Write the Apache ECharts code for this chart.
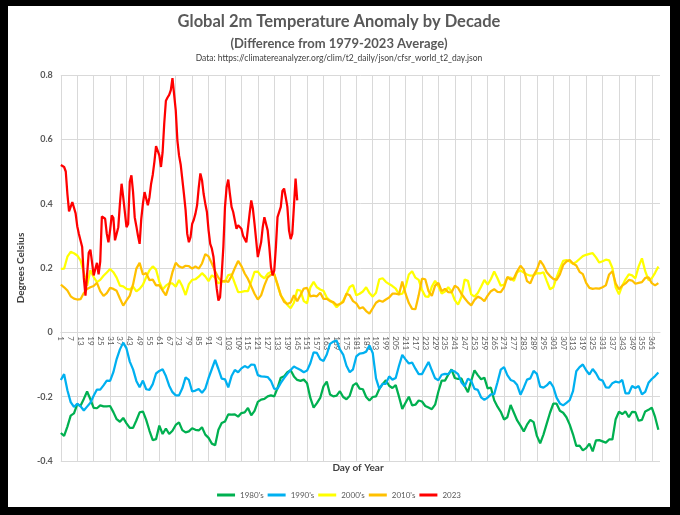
<!DOCTYPE html>
<html lang="en">
<head>
<meta charset="UTF-8">
<title>Global 2m Temperature Anomaly by Decade</title>
<script src="https://cdn.jsdelivr.net/npm/echarts@6/dist/echarts.min.js"></script>
<style>
  html, body { margin: 0; padding: 0; background: #000; }
  #chart { position: absolute; left: 8px; top: 6px; width: 662px; height: 501px; background: #fff; }
</style>
</head>
<body>
<div id="chart"></div>
<script>
// day-of-year categories (1..366), decade curves read every 2nd day (1,3,...,365)
var days = [];
for (var d = 1; d <= 366; d++) days.push(String(d));
var sampleDays = [];
for (var s = 1; s <= 365; s += 2) sampleDays.push(String(s));

var seriesNames = ["1980's", "1990's", "2000's", "2010's", '2023'];
var seriesColors = ['#00b050', '#00b0f0', '#ffff00', '#ffc000', '#ff0000'];

var v1980s = [
  -0.313, -0.322, -0.293, -0.259, -0.252, -0.224, -0.228, -0.207, -0.184, -0.208,
  -0.235, -0.236, -0.227, -0.23, -0.23, -0.229, -0.248, -0.27, -0.278, -0.266,
  -0.283, -0.297, -0.297, -0.274, -0.249, -0.246, -0.272, -0.306, -0.335, -0.332,
  -0.29, -0.316, -0.299, -0.316, -0.306, -0.288, -0.28, -0.304, -0.311, -0.308,
  -0.298, -0.303, -0.305, -0.295, -0.318, -0.328, -0.346, -0.351, -0.303, -0.282,
  -0.277, -0.255, -0.256, -0.255, -0.262, -0.251, -0.249, -0.235, -0.258, -0.244,
  -0.216, -0.209, -0.207, -0.199, -0.196, -0.199, -0.173, -0.141, -0.137, -0.124,
  -0.118, -0.137, -0.148, -0.151, -0.147, -0.158, -0.204, -0.234, -0.22, -0.204,
  -0.168, -0.153, -0.193, -0.199, -0.197, -0.183, -0.201, -0.208, -0.197,
  -0.165, -0.158, -0.175, -0.177, -0.201, -0.212, -0.201, -0.199, -0.176, -0.161,
  -0.149, -0.166, -0.173, -0.164, -0.2, -0.238, -0.219, -0.2, -0.227, -0.225,
  -0.212, -0.215, -0.229, -0.234, -0.239, -0.225, -0.184, -0.15, -0.15, -0.132,
  -0.115, -0.142, -0.145, -0.143, -0.167, -0.186, -0.151, -0.118, -0.133, -0.146,
  -0.141, -0.174, -0.172, -0.211, -0.231, -0.247, -0.271, -0.264, -0.226, -0.25,
  -0.274, -0.29, -0.308, -0.287, -0.272, -0.279, -0.322, -0.345, -0.318, -0.284,
  -0.25, -0.222, -0.222, -0.244, -0.25, -0.264, -0.287, -0.317, -0.353, -0.352,
  -0.367, -0.36, -0.346, -0.37, -0.336, -0.335, -0.339, -0.343, -0.333, -0.333,
  -0.27, -0.247, -0.254, -0.246, -0.264, -0.247, -0.248, -0.275, -0.272, -0.246,
  -0.241, -0.234, -0.263, -0.303
];

var v1990s = [
  -0.148, -0.13, -0.18, -0.217, -0.232, -0.222, -0.23, -0.243, -0.231, -0.219,
  -0.197, -0.178, -0.178, -0.165, -0.15, -0.151, -0.124, -0.083, -0.053, -0.032,
  -0.05, -0.091, -0.115, -0.151, -0.171, -0.15, -0.177, -0.179, -0.161, -0.128,
  -0.12, -0.115, -0.136, -0.166, -0.186, -0.196, -0.196, -0.174, -0.14, -0.148,
  -0.184, -0.181, -0.176, -0.188, -0.175, -0.142, -0.114, -0.086, -0.114, -0.144,
  -0.146, -0.171, -0.136, -0.117, -0.124, -0.112, -0.105, -0.11, -0.1, -0.101,
  -0.133, -0.137, -0.138, -0.139, -0.151, -0.176, -0.175, -0.157, -0.142, -0.129,
  -0.117, -0.106, -0.112, -0.117, -0.124, -0.119, -0.096, -0.062, -0.064, -0.084,
  -0.089, -0.069, -0.036, -0.029, -0.026, -0.053, -0.069, -0.104, -0.124,
  -0.115, -0.075, -0.066, -0.065, -0.06, -0.041, -0.064, -0.143, -0.176, -0.16,
  -0.16, -0.137, -0.147, -0.142, -0.104, -0.07, -0.084, -0.097, -0.094, -0.113,
  -0.13, -0.13, -0.111, -0.092, -0.118, -0.143, -0.149, -0.132, -0.129, -0.13,
  -0.118, -0.122, -0.13, -0.155, -0.168, -0.144, -0.151, -0.176, -0.179, -0.202,
  -0.21, -0.203, -0.193, -0.192, -0.155, -0.116, -0.108, -0.133, -0.148, -0.152,
  -0.164, -0.194, -0.172, -0.147, -0.143, -0.12, -0.129, -0.169, -0.172, -0.165,
  -0.154, -0.17, -0.203, -0.221, -0.227, -0.219, -0.211, -0.183, -0.121, -0.108,
  -0.1, -0.118, -0.131, -0.114, -0.127, -0.146, -0.15, -0.171, -0.172, -0.158,
  -0.153, -0.156, -0.148, -0.19, -0.19, -0.167, -0.173, -0.167, -0.193, -0.185,
  -0.157, -0.145, -0.136, -0.125
];

var v2000s = [
  0.197, 0.198, 0.235, 0.25, 0.246, 0.239, 0.224, 0.185, 0.145, 0.193,
  0.172, 0.156, 0.163, 0.176, 0.186, 0.197, 0.187, 0.17, 0.145, 0.143,
  0.135, 0.133, 0.142, 0.127, 0.135, 0.148, 0.172, 0.193, 0.205, 0.195,
  0.157, 0.133, 0.145, 0.152, 0.152, 0.142, 0.163, 0.143, 0.116, 0.15,
  0.163, 0.165, 0.173, 0.184, 0.174, 0.159, 0.177, 0.17, 0.152, 0.159,
  0.157, 0.178, 0.18, 0.152, 0.125, 0.126, 0.128, 0.128, 0.158, 0.188,
  0.189,
  0.175, 0.168, 0.182, 0.188, 0.182, 0.146, 0.115, 0.1, 0.085, 0.075,
  0.092, 0.132, 0.13, 0.097, 0.09, 0.14, 0.157, 0.14, 0.133, 0.129,
  0.108, 0.099, 0.091, 0.078, 0.088, 0.098, 0.119, 0.141, 0.147, 0.115,
  0.12, 0.127, 0.14, 0.122, 0.111, 0.123, 0.165, 0.168, 0.157, 0.15,
  0.144, 0.136, 0.118, 0.12, 0.141, 0.18, 0.19, 0.17, 0.163, 0.132,
  0.112, 0.11, 0.142, 0.16, 0.143, 0.121, 0.127, 0.14, 0.127, 0.1,
  0.086, 0.11, 0.164, 0.16, 0.118, 0.111, 0.122, 0.142, 0.163, 0.148,
  0.166, 0.189, 0.168, 0.145, 0.148, 0.17, 0.17, 0.16, 0.187, 0.192,
  0.186, 0.18, 0.176, 0.177, 0.184, 0.183, 0.187, 0.16, 0.134, 0.14,
  0.171, 0.198, 0.222, 0.225, 0.22, 0.213, 0.219, 0.228, 0.237, 0.241,
  0.244, 0.246, 0.233, 0.217, 0.221, 0.226, 0.224, 0.2, 0.14, 0.118,
  0.145, 0.165, 0.18, 0.177, 0.168, 0.205, 0.23, 0.19, 0.162, 0.168,
  0.185, 0.205
];

var v2010s = [
  0.148, 0.14, 0.13, 0.112, 0.105, 0.102, 0.103, 0.122, 0.135, 0.14,
  0.144, 0.154, 0.128, 0.113, 0.122, 0.138, 0.135, 0.129, 0.105, 0.083,
  0.099, 0.114, 0.149, 0.198, 0.216, 0.18, 0.184, 0.162, 0.164, 0.146,
  0.147, 0.13, 0.115, 0.146, 0.187, 0.216, 0.205, 0.201, 0.207, 0.206,
  0.198, 0.205, 0.198, 0.214, 0.243, 0.236, 0.214, 0.19, 0.17, 0.158,
  0.16, 0.157, 0.175, 0.2, 0.222, 0.206, 0.183, 0.166, 0.143, 0.12,
  0.102,
  0.115, 0.146, 0.171, 0.179, 0.18, 0.15, 0.115, 0.095, 0.088, 0.093,
  0.115, 0.097, 0.116, 0.136, 0.138, 0.112, 0.114, 0.112, 0.123, 0.104,
  0.104, 0.097, 0.094, 0.085, 0.088, 0.094, 0.12, 0.115, 0.097, 0.09,
  0.074, 0.078, 0.066, 0.058, 0.075, 0.092, 0.099, 0.095, 0.102, 0.108,
  0.12, 0.12, 0.118, 0.158, 0.12, 0.091, 0.073, 0.072, 0.115, 0.167,
  0.165, 0.128, 0.113, 0.145, 0.154, 0.128, 0.135, 0.125, 0.124, 0.145,
  0.138, 0.12, 0.106, 0.093, 0.084, 0.101, 0.111, 0.106, 0.097, 0.114,
  0.128, 0.134, 0.126, 0.125, 0.14, 0.172, 0.164, 0.168, 0.19, 0.207,
  0.195, 0.159, 0.152, 0.177, 0.195, 0.223, 0.208, 0.187, 0.175, 0.166,
  0.163, 0.18, 0.209, 0.22, 0.225, 0.214, 0.208, 0.188, 0.181, 0.154,
  0.138, 0.135, 0.137, 0.136, 0.14, 0.146, 0.18, 0.19, 0.152, 0.134,
  0.145, 0.152, 0.163, 0.161, 0.151, 0.154, 0.156, 0.169, 0.171, 0.153,
  0.146, 0.153
];

// 2023, one value per day from day 1
var v2023 = [
  0.52, 0.518, 0.514, 0.5, 0.43, 0.376, 0.377, 0.405, 0.4, 0.37,
  0.33, 0.306, 0.3, 0.265, 0.17, 0.114, 0.18, 0.247, 0.257, 0.218,
  0.177, 0.197, 0.216, 0.18, 0.22, 0.36, 0.357, 0.353, 0.306, 0.28,
  0.317, 0.364, 0.356, 0.286, 0.28, 0.327, 0.4, 0.462, 0.42, 0.374,
  0.327, 0.337, 0.468, 0.488, 0.436, 0.358, 0.33, 0.3, 0.275, 0.353,
  0.4, 0.436, 0.44, 0.395, 0.42, 0.462, 0.49, 0.53, 0.579, 0.575,
  0.55, 0.514, 0.56, 0.65, 0.72, 0.73, 0.738, 0.753, 0.79, 0.79,
  0.69, 0.597, 0.55, 0.522, 0.516, 0.43, 0.38, 0.306, 0.28, 0.296,
  0.337, 0.35, 0.369, 0.395, 0.45, 0.494, 0.473, 0.43, 0.4, 0.374,
  0.317, 0.275, 0.26, 0.234, 0.18, 0.135, 0.099, 0.109, 0.18, 0.265,
  0.39, 0.452, 0.475, 0.43, 0.39, 0.374, 0.348, 0.322, 0.333, 0.337,
  0.322, 0.3, 0.296, 0.28, 0.286, 0.369, 0.41, 0.384, 0.337, 0.286,
  0.234, 0.234, 0.28, 0.327, 0.358, 0.364, 0.317, 0.265, 0.203, 0.177,
  0.192, 0.265, 0.358, 0.358, 0.39, 0.44, 0.447, 0.42, 0.39, 0.317,
  0.29, 0.306, 0.306, 0.478, 0.41
];

function pairs(xs, ys) {
  return ys.map(function (v, i) { return [xs[i], v]; });
}

var seriesData = [
  pairs(sampleDays, v1980s),
  pairs(sampleDays, v1990s),
  pairs(sampleDays, v2000s),
  pairs(sampleDays, v2010s),
  pairs(days, v2023)
];

var FONT = 'Lato, "Liberation Sans", sans-serif';
var GRID_TOP = 69, GRID_BOTTOM = 46, Y_MIN = -0.4, Y_MAX = 0.8;
var gridHeight = 501 - GRID_TOP - GRID_BOTTOM;
// move the category axis up from the bottom edge to the zero line
var zeroOffset = -gridHeight * (0 - Y_MIN) / (Y_MAX - Y_MIN);

var chart = echarts.init(document.getElementById('chart'));

var option = {
  animation: false,
  color: seriesColors,
  textStyle: { fontFamily: FONT },
  graphic: [
    { type: 'text', x: 331, y: 16, style: { text: 'Global 2m Temperature Anomaly by Decade', align: 'center', verticalAlign: 'middle', font: 'bold 16.5px ' + FONT, fill: '#595959' } },
    { type: 'text', x: 331, y: 38, style: { text: '(Difference from 1979-2023 Average)', align: 'center', verticalAlign: 'middle', font: 'bold 13px ' + FONT, fill: '#595959' } },
    { type: 'text', x: 331, y: 52, style: { text: 'Data: https://climatereanalyzer.org/clim/t2_daily/json/cfsr_world_t2_day.json', align: 'center', verticalAlign: 'middle', font: '8.5px ' + FONT, fill: '#404040' } },
    { type: 'text', x: 350, y: 462, style: { text: 'Day of Year', align: 'center', verticalAlign: 'middle', font: 'bold 10px ' + FONT, fill: '#404040' } }
  ],
  legend: {
    data: seriesNames,
    left: 'center',
    top: 480,
    icon: 'rect',
    itemWidth: 18,
    itemHeight: 3,
    itemGap: 4,
    textStyle: { fontSize: 8, color: '#595959', fontFamily: FONT }
  },
  grid: { left: 49, right: 10, top: GRID_TOP, bottom: GRID_BOTTOM },
  xAxis: {
    type: 'category',
    data: days,
    boundaryGap: false,
    position: 'bottom',
    offset: zeroOffset,
    axisLine: { onZero: false, lineStyle: { color: '#d9d9d9' } },
    axisTick: { show: false },
    axisLabel: { interval: 5, rotate: -90, fontSize: 8, color: '#595959', margin: 4 },
    splitLine: { show: true, interval: 9, lineStyle: { color: '#d9d9d9' } }
  },
  yAxis: {
    type: 'value',
    min: Y_MIN,
    max: Y_MAX,
    interval: 0.2,
    name: 'Degrees Celsius',
    nameLocation: 'middle',
    nameGap: 27,
    nameTextStyle: { fontSize: 10, fontWeight: 'bold', color: '#404040' },
    axisLine: { show: false },
    axisTick: { show: false },
    axisLabel: {
      fontSize: 9, fontWeight: 'bold', color: '#595959', margin: 8,
      formatter: function (v) { return String(+v.toFixed(1)); }
    },
    splitLine: { lineStyle: { color: '#d9d9d9' } }
  },
  series: seriesNames.map(function (n, i) {
    return {
      name: n,
      type: 'line',
      data: seriesData[i],
      symbol: 'none',
      lineStyle: { width: 2.25 }
    };
  })
};

chart.setOption(option);
</script>
</body>
</html>
